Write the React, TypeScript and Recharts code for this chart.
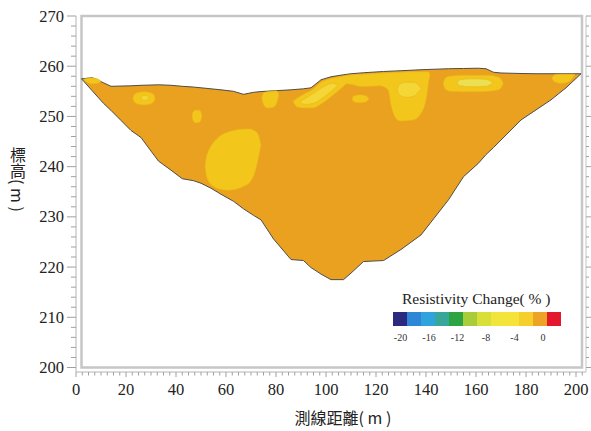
import React from "react";
import { ComposedChart, Area, XAxis, YAxis, ReferenceArea } from "recharts";

// survey line cross-section: surface and bottom of the inverted section (m)
const distance = [2.2, 6.5, 11, 14, 18, 22, 26, 30, 33, 38, 42.5, 47, 50, 54, 58, 63, 67, 71, 74, 79, 86, 91, 94, 98, 102, 107, 110, 115, 123, 130, 138, 149, 155, 161, 164, 167, 170, 178, 184, 190, 196, 202];
const surfaceElev = [257.5, 257.7, 256.7, 256.0, 256.05, 256.1, 256.2, 256.25, 256.3, 256.2, 256.0, 255.85, 255.7, 255.5, 255.3, 255.0, 254.4, 254.8, 254.95, 255.1, 255.3, 255.5, 255.7, 257.3, 257.9, 258.3, 258.5, 258.7, 258.95, 259.1, 259.3, 259.5, 259.55, 259.6, 259.5, 258.8, 258.65, 258.55, 258.5, 258.5, 258.5, 258.5];
const bottomElev = [257.5, 255.1, 252.6, 251.2, 249.2, 247.2, 245.8, 243.1, 241.1, 239.3, 237.6, 237.2, 236.7, 235.7, 234.5, 233.1, 231.6, 230.3, 229.4, 225.6, 221.5, 221.3, 219.9, 218.6, 217.5, 217.5, 218.8, 221.1, 221.3, 223.5, 226.4, 233.4, 238.0, 240.7, 242.4, 243.8, 245.3, 249.3, 251.3, 253.3, 255.7, 258.5];

// contour patches: [distance, lower elev, upper elev]
type Row = [number, number, number];
const patchTip: Row[] = [[3.0, 257.4, 257.4], [4.5, 256.8, 257.6], [6.5, 256.5, 257.65], [8.5, 256.6, 257.5], [10, 257.0, 257.0]];
const patchOval: Row[] = [[22.8, 253.6, 253.6], [23.3, 252.9, 254.3], [24.6, 252.5, 254.7], [27.2, 252.3, 254.9], [29.8, 252.5, 254.7], [31.1, 252.9, 254.3], [31.6, 253.6, 253.6]];
const patchOvalCore: Row[] = [[26.0, 253.7, 253.7], [26.6, 253.3, 254.1], [27.6, 253.2, 254.2], [28.6, 253.3, 254.1], [29.2, 253.7, 253.7]];
const patchSmall: Row[] = [[46.4, 250.0, 250.0], [46.8, 249.2, 250.9], [48.0, 248.7, 251.3], [49.6, 248.9, 251.2], [50.4, 250.1, 250.1]];
const patchEgg: Row[] = [[51.6, 240.1, 240.1], [52.0, 238.6, 241.6], [52.8, 237.3, 242.9], [54.8, 236.1, 244.7], [57.6, 235.5, 246.1], [60.8, 235.3, 246.9], [64.0, 235.5, 247.3], [67.2, 236.1, 247.5], [69.6, 236.9, 247.5], [71.6, 238.9, 247.1], [72.8, 241.3, 246.5], [73.6, 243.3, 245.3], [74.0, 244.3, 244.3]];
const patchKnob: Row[] = [[74.3, 253.7, 253.7], [75.0, 252.4, 254.7], [76.6, 251.7, 254.9], [78.6, 251.8, 255.0], [80.2, 252.5, 255.1], [81.0, 254.0, 254.6]];
const patchBand: Row[] = [[86.8, 253.0, 253.0], [88.4, 251.9, 253.6], [91.0, 251.7, 254.4], [94.8, 251.7, 255.4], [98.0, 252.5, 256.8], [101.0, 253.5, 257.4], [104.4, 254.9, 257.8], [106.8, 255.9, 258.0], [108.4, 256.5, 258.2], [114.8, 255.9, 258.4], [121.6, 256.1, 258.6], [124.8, 255.3, 258.7], [126.0, 252.3, 258.7], [127.6, 249.9, 258.8], [129.6, 249.1, 258.8], [134.8, 249.3, 258.9], [138.8, 251.3, 258.9], [140.4, 254.3, 258.9], [141.2, 257.3, 258.8], [141.6, 258.2, 258.2]];
const patchBandCore: Row[] = [[89.6, 252.9, 252.9], [91.5, 252.4, 253.5], [95, 252.6, 254.6], [99, 253.8, 255.9], [102.5, 255.2, 256.6], [104.8, 256.2, 256.2]];
const patchLobeCore: Row[] = [[128.4, 255.3, 255.3], [129.6, 254.2, 256.5], [132, 253.8, 256.8], [135, 254.0, 256.8], [137.6, 255.2, 255.9], [138.2, 255.5, 255.5]];
const patchDot: Row[] = [[110.4, 253.5, 253.5], [111.2, 252.9, 254.1], [113.6, 252.7, 254.3], [116.0, 252.9, 254.1], [117.2, 253.5, 253.5]];
const patchLens: Row[] = [[146.9, 256.5, 256.5], [147.6, 255.5, 257.6], [149.5, 255.0, 258.0], [155, 254.9, 258.2], [160, 254.9, 258.2], [165, 255.0, 258.2], [169, 255.3, 257.8], [170.3, 255.9, 257.2], [170.9, 256.6, 256.6]];
const patchLensCore: Row[] = [[152.4, 256.7, 256.7], [153.6, 256.1, 257.3], [158, 255.9, 257.5], [164, 256.0, 257.4], [166.8, 256.7, 256.7]];
const patchEdge: Row[] = [[190.3, 257.6, 257.6], [191.5, 256.9, 258.3], [194, 256.6, 258.4], [197, 256.9, 258.4], [198.9, 257.8, 258.4], [199.5, 258.3, 258.3]];

const legendColors = ["#2B2A7E", "#2E86D6", "#2FA3DE", "#38A79A", "#2DA344", "#A9CD3A", "#D7DF38", "#F1E53B", "#F6E33A", "#F5D02C", "#EDA325", "#E3182D"];
const legendLabels = ["-20", "-16", "-12", "-8", "-4", "0"];
const xMajor = [0, 20, 40, 60, 80, 100, 120, 140, 160, 180, 200];
const yMajor = [200, 210, 220, 230, 240, 250, 260, 270];

const xTicks = Array.from({ length: 82 }, (_, i) => i * 2.5);
const yTicks = Array.from({ length: 36 }, (_, i) => 200 + i * 2);

const ORANGE = "#EAA11F";
const YELLOW = "#F3C61B";
const LIGHT = "#F4D636";
const PALE = "#ECDF52";
const serif = "'Liberation Serif', 'DejaVu Serif', serif";
const cjk = "'Noto Sans CJK TC', 'Noto Sans CJK JP', sans-serif";

const section = distance.map((x, i) => ({ x, band: [bottomElev[i], surfaceElev[i]] }));
const toBand = (rows: Row[]) => rows.map(([x, lo, hi]) => ({ x, band: [lo, hi] }));

const patches = [
  { id: "tip", rows: patchTip, fill: YELLOW },
  { id: "oval", rows: patchOval, fill: YELLOW },
  { id: "small", rows: patchSmall, fill: YELLOW },
  { id: "egg", rows: patchEgg, fill: YELLOW },
  { id: "knob", rows: patchKnob, fill: YELLOW },
  { id: "band", rows: patchBand, fill: YELLOW },
  { id: "dot", rows: patchDot, fill: YELLOW },
  { id: "lens", rows: patchLens, fill: YELLOW },
  { id: "edge", rows: patchEdge, fill: YELLOW },
  { id: "ovalCore", rows: patchOvalCore, fill: LIGHT },
  { id: "bandCore", rows: patchBandCore, fill: LIGHT },
  { id: "lobeCore", rows: patchLobeCore, fill: LIGHT },
  { id: "lensCore", rows: patchLensCore, fill: PALE },
];

const YTick = (props: any) => {
  const { x, y, payload } = props;
  const major = yMajor.includes(payload.value);
  return (
    <g>
      <line x1={x - (major ? 9 : 5)} x2={x} y1={y} y2={y} stroke="#a0a0a0" />
      {major && (
        <text x={x - 12} y={y} textAnchor="end" dominantBaseline="central" fontFamily={serif} fontSize={16.5} fill="#222">
          {payload.value}
        </text>
      )}
    </g>
  );
};

const RightTick = (props: any) => {
  const { x, y, payload } = props;
  const major = yMajor.includes(payload.value);
  return <line x1={x} x2={x + (major ? 5 : 3)} y1={y} y2={y} stroke="#a0a0a0" />;
};

const XTick = (props: any) => {
  const { x, y, payload } = props;
  const major = xMajor.includes(payload.value);
  return (
    <g>
      <line x1={x} x2={x} y1={y} y2={y + (major ? 5 : 3.5)} stroke="#a0a0a0" />
      {major && (
        <text x={x} y={y + 17} textAnchor="middle" dominantBaseline="central" fontFamily={serif} fontSize={16.5} fill="#222">
          {payload.value}
        </text>
      )}
    </g>
  );
};

export default function App() {
  return (
    <div style={{ position: "absolute", left: 0, top: 0, width: 591, height: 431, background: "#fff" }}>
      <ComposedChart width={591} height={431} data={section} margin={{ top: 16, right: 0, bottom: 29, left: 36 }}>
        <XAxis
          type="number"
          dataKey="x"
          domain={[0, 204]}
          allowDataOverflow
          ticks={xTicks}
          interval={0}
          tickSize={0}
          tickMargin={0}
          tickLine={false}
          axisLine={{ stroke: "#b4b4b4" }}
          tick={(p: any) => <XTick {...p} />}
          height={30}
        />
        <YAxis
          type="number"
          domain={[200, 270]}
          allowDataOverflow
          ticks={yTicks}
          interval={0}
          width={40}
          padding={{ top: 0, bottom: 4.5 }}
          tickSize={0}
          tickMargin={0}
          tickLine={false}
          axisLine={{ stroke: "#b4b4b4" }}
          tick={(p: any) => <YTick {...p} />}
        />
        <YAxis
          yAxisId="right"
          orientation="right"
          type="number"
          domain={[200, 270]}
          allowDataOverflow
          ticks={yTicks}
          interval={0}
          width={5}
          padding={{ top: 0, bottom: 4.5 }}
          tickSize={0}
          tickMargin={0}
          tickLine={false}
          axisLine={{ stroke: "#c4c4c4" }}
          tick={(p: any) => <RightTick {...p} />}
        />
        <ReferenceArea x1={2.2} x2={202.4} y1={200} y2={270} fill="none" stroke="#c6c6c6" strokeWidth={2.5} />
        <Area
          type="linear"
          dataKey="band"
          fill={ORANGE}
          fillOpacity={1}
          stroke="#4d4d4d"
          strokeWidth={1}
          dot={false}
          activeDot={false}
          isAnimationActive={false}
        />
        {patches.map((p) => (
          <Area
            key={p.id}
            data={toBand(p.rows)}
            type="monotone"
            dataKey="band"
            fill={p.fill}
            fillOpacity={1}
            stroke="#e9b61c"
            strokeWidth={0.6}
            dot={false}
            activeDot={false}
            isAnimationActive={false}
          />
        ))}
      </ComposedChart>

      <div
        style={{
          position: "absolute",
          left: 9,
          top: 147,
          writingMode: "vertical-rl",
          fontFamily: cjk,
          fontSize: 16,
          lineHeight: "18px",
          color: "#222",
          whiteSpace: "nowrap",
        }}
      >
        標高( m )
      </div>
      <div
        style={{
          position: "absolute",
          left: 343,
          top: 407,
          transform: "translateX(-50%)",
          fontFamily: cjk,
          fontSize: 16,
          lineHeight: "20px",
          color: "#222",
          whiteSpace: "nowrap",
        }}
      >
        測線距離( m )
      </div>

      <div style={{ position: "absolute", left: 402, top: 290, fontFamily: serif, fontSize: 15.5, lineHeight: "18px", color: "#222", whiteSpace: "nowrap" }}>
        Resistivity Change( % )
      </div>
      <div style={{ position: "absolute", left: 393, top: 312, display: "flex" }}>
        {legendColors.map((c) => (
          <div key={c} style={{ width: 14, height: 14, background: c }} />
        ))}
      </div>
      {legendLabels.map((l, i) => (
        <div
          key={l}
          style={{
            position: "absolute",
            left: 400.5 + i * 28.5,
            top: 332,
            transform: "translateX(-50%)",
            fontFamily: serif,
            fontSize: 10,
            lineHeight: "12px",
            color: "#333",
          }}
        >
          {l}
        </div>
      ))}
    </div>
  );
}
